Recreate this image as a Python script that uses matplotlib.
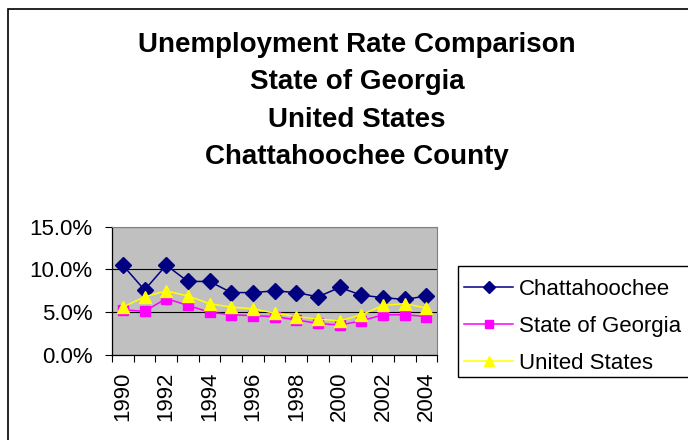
import numpy as np
import matplotlib.pyplot as plt
from matplotlib.patches import Rectangle
from matplotlib.ticker import FuncFormatter

plt.rcParams['font.family'] = ['Liberation Sans', 'DejaVu Sans']

# Annual unemployment rates (%)
years = np.arange(1990, 2005)
chattahoochee = [10.5, 7.6, 10.5, 8.6, 8.6, 7.3, 7.3, 7.5, 7.3, 6.8, 7.9, 7.0, 6.7, 6.5, 6.9]
georgia = [5.3, 5.1, 6.6, 5.8, 5.0, 4.7, 4.6, 4.5, 4.1, 3.7, 3.5, 4.0, 4.7, 4.7, 4.5]
united_states = [5.6, 6.8, 7.5, 6.9, 6.0, 5.6, 5.4, 4.9, 4.5, 4.2, 4.0, 4.7, 5.8, 6.0, 5.5]

title_lines = ['Unemployment Rate Comparison', 'State of Georgia',
               'United States', 'Chattahoochee County']

W, H = 688, 440
fig = plt.figure(figsize=(W / 100, H / 100), dpi=100)

# outer chart frame, running off the right and bottom edges
fig.patches.append(Rectangle((8 / W, -0.2), 1, 1.2 - 9 / H, transform=fig.transFigure,
                             fill=False, edgecolor='black', linewidth=1.2))

for i, line in enumerate(title_lines):
    fig.text(357 / W, 1 - (45 + 37.4 * i) / H, line, ha='center', va='center',
             fontsize=20, fontweight='bold')

ax = fig.add_axes([112 / W, 1 - 355 / H, (437.3 - 112) / W, (355 - 226.7) / H])
ax.set_facecolor('#C0C0C0')

ax.plot(years, chattahoochee, color='#000080', marker='D', ms=8, lw=1.1,
        label='Chattahoochee')
ax.plot(years, georgia, color='#FF00FF', marker='s', ms=7, lw=1.1,
        label='State of Georgia')
ax.plot(years, united_states, color='#FFFF00', marker='^', ms=9, lw=1.1,
        label='United States')

ax.set_xlim(1989.5, 2004.5)
ax.set_ylim(0, 15)
ax.set_yticks([0, 5, 10, 15])
ax.yaxis.set_major_formatter(FuncFormatter(lambda v, p: f'{v:.1f}%'))
ax.grid(axis='y', color='black', linewidth=0.8)
ax.set_axisbelow(True)

# category boundaries get the tick marks, even years get the labels
ax.set_xticks(np.arange(1989.5, 2005, 1))
ax.set_xticklabels([])
ax.set_xticks(years[::2], minor=True)
ax.set_xticklabels([str(y) for y in years[::2]], minor=True, rotation=90)
ax.tick_params(axis='x', which='major', direction='out', length=5, width=0.8)
ax.tick_params(axis='x', which='minor', length=0, pad=12, labelsize=16)
ax.tick_params(axis='y', direction='out', length=5, width=0.8, pad=9, labelsize=16)

for side in ['top', 'right']:
    ax.spines[side].set_color('#808080')
for side in ['left', 'bottom']:
    ax.spines[side].set_color('black')
    ax.spines[side].set_linewidth(0.9)

# legend box is cut off by the right edge, so its frame is drawn on its own
fig.patches.append(Rectangle((457.7 / W, 1 - 377 / H), 0.5, (377 - 266) / H,
                             transform=fig.transFigure, fill=False,
                             edgecolor='black', linewidth=1.0))
fig.legend(loc='upper left', bbox_to_anchor=(457.7 / W, 1 - 272.6 / H),
           bbox_transform=fig.transFigure, borderaxespad=0, fontsize=16,
           frameon=False, handlelength=2.2, handletextpad=0.25,
           labelspacing=0.71, borderpad=0.3, markerscale=0.8)

fig.savefig('out.png', dpi=100)
